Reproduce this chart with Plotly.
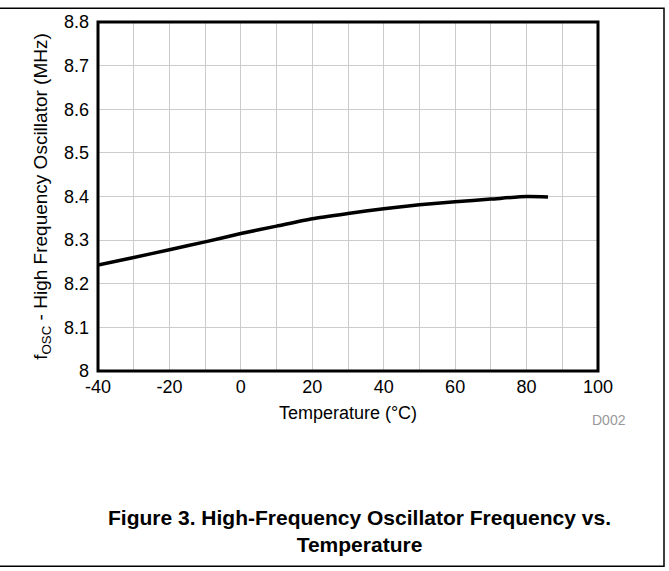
import plotly.graph_objects as go

# Data
temperature_c = [-40, -30, -20, -10, 0, 10, 20, 30, 40, 50, 60, 70, 80, 86]
freq_mhz = [8.243, 8.260, 8.278, 8.296, 8.315, 8.332, 8.349, 8.361, 8.372, 8.381, 8.388, 8.394, 8.400, 8.399]

x_ticks = [-40, -20, 0, 20, 40, 60, 80, 100]
x_tick_labels = ["-40", "-20", "0", "20", "40", "60", "80", "100"]
y_ticks = [8, 8.1, 8.2, 8.3, 8.4, 8.5, 8.6, 8.7, 8.8]
y_tick_labels = ["8", "8.1", "8.2", "8.3", "8.4", "8.5", "8.6", "8.7", "8.8"]

W, H = 669, 571
L, R, T, B = 98, 71, 17, 200
FONT = "Liberation Sans, Arial, sans-serif"

fig = go.Figure()
fig.add_trace(go.Scatter(
    x=temperature_c, y=freq_mhz, mode="lines",
    line=dict(color="black", width=3.5, shape="spline", smoothing=0.6),
    hoverinfo="skip", showlegend=False,
))

pw = W - L - R
ph = H - T - B
def px_x(p):
    return (p - L) / pw
def px_y(p):
    return (H - B - p) / ph

fig.update_layout(
    width=W, height=H,
    margin=dict(l=L, r=R, t=T, b=B, pad=0),
    paper_bgcolor="white", plot_bgcolor="white",
    font=dict(family=FONT, size=18, color="black"),
    xaxis=dict(
        range=[-40, 100], tickmode="array", tickvals=x_ticks, ticktext=x_tick_labels,
        ticks="", showgrid=True, gridcolor="#cccccc", gridwidth=1,
        minor=dict(dtick=10, tick0=-40, showgrid=True, gridcolor="#cccccc", gridwidth=1),
        showline=False, zeroline=False, ticklabelstandoff=3,
        tickfont=dict(size=18, family=FONT),
        title=dict(text="Temperature (°C)", font=dict(size=18, family=FONT), standoff=10),
    ),
    yaxis=dict(
        range=[8, 8.8], tickmode="array", tickvals=y_ticks, ticktext=y_tick_labels,
        ticks="", showgrid=True, gridcolor="#cccccc", gridwidth=1,
        showline=False, zeroline=False, ticklabelstandoff=8,
        tickfont=dict(size=18, family=FONT),
        title=dict(text="f<sub>OSC</sub> - High Frequency Oscillator (MHz)",
                   font=dict(size=19, family=FONT), standoff=11),
    ),
    shapes=[
        dict(type="rect", xref="paper", yref="paper", x0=0, x1=1, y0=0, y1=1,
             line=dict(color="black", width=3), fillcolor="rgba(0,0,0,0)", layer="above"),
        dict(type="rect", xref="paper", yref="paper",
             x0=px_x(-5), x1=px_x(664), y0=px_y(569), y1=px_y(3),
             line=dict(color="black", width=1.5), fillcolor="rgba(0,0,0,0)", layer="above"),
    ],
    annotations=[
        dict(text="D002", xref="paper", yref="paper", x=px_x(628), y=px_y(421),
             xanchor="right", yanchor="middle", showarrow=False,
             font=dict(size=14, color="#999999", family=FONT)),
        dict(text="<b>Figure 3. High-Frequency Oscillator Frequency vs.<br>Temperature</b>",
             xref="paper", yref="paper", x=px_x(359), y=px_y(533),
             xanchor="center", yanchor="middle", showarrow=False, align="center",
             font=dict(size=21, color="black", family=FONT)),
    ],
)

fig.write_html(
    "out.html",
    config={"displayModeBar": False},
    post_script="document.body.style.margin='0px';document.body.style.padding='0px';",
)
